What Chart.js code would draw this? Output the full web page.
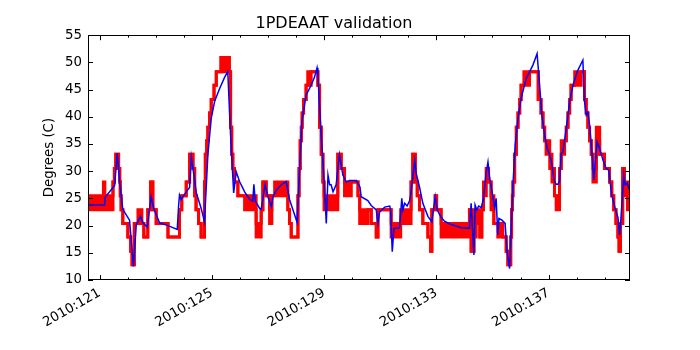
<!DOCTYPE html>
<html>
<head>
<meta charset="utf-8">
<script src="https://cdn.jsdelivr.net/npm/chart.js@4.4.1/dist/chart.umd.min.js"></script>
<style>
html,body{margin:0;padding:0;background:#fff;}
#wrap{width:700px;height:350px;}
</style>
</head>
<body>
<div id="wrap"><canvas id="c" width="700" height="350"></canvas></div>
<script>
// ---- data (day-of-year 2010) ----
const majorDays = [121, 125, 129, 133, 137];
const majorLabels = ['2010:121', '2010:125', '2010:129', '2010:133', '2010:137'];
const minorDays = [121,122,123,124,125,126,127,128,129,130,131,132,133,134,135,136,137,138,139];
const yTicks = [10,15,20,25,30,35,40,45,50,55];

// model (blue)
const blueT = [
120.59,121.18,121.20,121.54,121.63,121.72,121.83,122.07,122.21,122.31,
122.46,122.55,122.70,122.84,122.94,123.14,123.44,123.77,123.82,123.85,
123.91,124.09,124.21,124.27,124.33,124.45,124.62,124.74,124.86,124.98,
125.10,125.28,125.46,125.57,125.67,125.78,125.87,125.99,126.17,126.35,
126.46,126.50,126.55,126.70,126.76,126.90,127.00,127.12,127.18,127.30,
127.47,127.65,127.77,127.95,128.04,128.13,128.21,128.36,128.54,128.66,
128.75,128.78,128.90,128.99,129.08,129.14,129.20,129.25,129.32,129.43,
129.55,129.67,129.79,129.91,130.15,130.28,130.32,130.56,130.68,130.86,
130.92,130.98,131.16,131.34,131.37,131.43,131.49,131.69,131.77,131.81,
131.87,131.96,132.05,132.10,132.23,132.28,132.40,132.52,132.70,132.84,
132.96,133.03,133.15,133.29,133.48,133.89,134.18,134.24,134.34,134.38,
134.44,134.51,134.60,134.68,134.78,134.84,134.90,134.95,135.08,135.13,
135.19,135.23,135.34,135.45,135.52,135.61,135.65,135.73,135.81,135.91,
136.02,136.20,136.44,136.59,136.68,136.76,136.86,136.95,137.04,137.09,
137.15,137.21,137.27,137.33,137.39,137.45,137.51,137.63,137.75,137.87,
138.02,138.16,138.22,138.28,138.34,138.40,138.46,138.54,138.61,138.73,
138.78,138.94,139.05,139.14,139.25,139.37,139.47,139.53,139.56,139.68,
139.73,139.80,139.90];
const blueV = [
23.8,23.8,25.2,27.4,33.3,28.0,23.0,21.0,12.5,20.2,
21.7,20.5,19.7,25.3,23.0,20.5,20.0,19.3,23.8,25.6,
24.8,26.2,27.0,32.6,30.5,26.0,23.2,20.7,33.0,39.7,
42.8,45.2,47.3,48.3,36.6,26.0,29.9,28.1,26.2,24.8,
24.5,27.6,24.5,23.2,23.0,27.5,25.3,23.5,25.3,26.5,
27.5,28.1,24.8,22.0,20.6,30.5,39.1,44.0,45.8,47.3,
49.0,47.5,36.6,29.3,20.4,29.3,27.5,27.5,26.2,27.5,
33.0,29.3,28.0,28.3,28.3,27.1,25.3,24.6,23.7,22.9,
20.4,22.5,23.4,23.6,22.9,15.2,19.5,19.6,25.0,22.9,
24.1,23.6,24.6,26.2,32.0,29.7,27.1,24.1,21.7,20.7,
25.3,22.9,21.7,20.8,20.3,19.6,19.5,24.1,14.6,23.8,
22.9,23.6,23.3,25.0,29.9,31.7,28.8,27.3,23.3,25.0,
18.3,21.3,21.0,20.4,15.2,12.1,17.0,27.5,34.8,39.7,
43.4,47.0,49.5,51.6,45.8,40.3,36.6,34.2,33.0,32.0,
30.0,28.1,27.6,27.6,28.1,33.3,33.5,37.9,42.8,45.8,
48.3,49.8,50.4,42.8,40.3,40.8,38.5,33.6,28.4,35.4,
34.8,32.0,30.5,30.2,25.6,23.2,21.5,18.3,20.0,29.3,
27.5,27.8,26.3];

// telemetry (red), quantized; each value holds until the next time.
// where the telemetry toggles between two counts, lo/hi give both levels
const redT = [
120.59,121.14,121.19,121.48,121.53,121.58,121.68,121.72,121.74,121.77,
121.83,122.01,122.11,122.16,122.24,122.37,122.51,122.58,122.72,122.82,
122.90,123.02,123.44,123.85,123.93,124.09,124.21,124.33,124.39,124.44,
124.53,124.62,124.74,124.77,124.82,124.86,124.92,124.98,125.08,125.16,
125.32,125.63,125.67,125.71,125.75,125.81,125.93,126.17,126.58,126.76,
126.82,126.94,127.06,127.14,127.24,127.71,127.77,127.83,128.07,128.11,
128.15,128.19,128.22,128.27,128.36,128.42,128.54,128.78,128.84,128.90,
128.96,129.00,129.49,129.61,129.73,129.97,130.21,130.27,130.56,130.68,
130.86,130.92,131.39,131.73,132.10,132.16,132.25,132.32,132.40,132.52,
132.70,132.80,132.84,132.96,133.01,133.17,134.18,134.24,134.34,134.42,
134.55,134.62,134.68,134.78,134.86,134.95,135.05,135.19,135.37,135.49,
135.55,135.65,135.68,135.71,135.73,135.79,135.85,135.91,135.97,136.02,
136.12,136.32,136.63,136.73,136.80,136.86,136.91,137.04,137.12,137.21,
137.27,137.39,137.45,137.57,137.63,137.69,137.75,137.80,137.93,138.16,
138.28,138.34,138.40,138.46,138.52,138.58,138.70,138.82,138.99,139.17,
139.25,139.32,139.40,139.47,139.51,139.56,139.64,139.70,139.81,139.90];
const redLo = [
22.9,22.9,22.9,28.0,30.5,33.1,30.5,28.0,25.5,22.9,
20.4,17.9,15.3,12.8,20.4,20.4,20.4,17.9,22.9,28.0,
22.9,20.4,17.9,22.9,25.5,28.0,33.1,30.5,25.5,22.9,
20.4,17.9,28.0,33.1,35.6,38.1,40.7,43.2,45.8,48.3,
48.3,48.3,38.1,33.1,30.5,28.0,25.5,22.9,17.9,22.9,
28.0,25.5,20.4,25.5,25.5,22.9,20.4,17.9,25.5,30.5,
35.6,38.1,40.7,43.2,45.8,45.8,48.3,45.8,38.1,33.1,
28.0,22.9,33.1,30.5,25.5,28.0,25.5,20.4,22.9,20.4,
17.9,22.9,17.9,20.4,28.0,33.1,28.0,25.5,22.9,20.4,
17.9,15.3,22.9,25.5,22.9,17.9,22.9,15.3,17.9,20.4,
17.9,22.9,25.5,30.5,28.0,22.9,20.4,17.9,17.9,15.3,
12.8,17.9,22.9,25.5,28.0,33.1,38.1,40.7,43.2,45.8,
45.8,48.3,43.2,40.7,38.1,35.6,33.1,30.5,28.0,25.5,
22.9,30.5,33.1,35.6,38.1,40.7,43.2,45.8,45.8,48.3,
43.2,40.7,38.1,35.6,33.1,28.0,35.6,33.1,30.5,28.0,
25.5,22.9,20.4,17.9,15.3,20.4,30.5,25.5,22.9,22.9];
const redHi = [
25.5,28.0,25.5,28.0,30.5,33.1,30.5,28.0,25.5,22.9,
20.4,17.9,15.3,12.8,20.4,22.9,20.4,17.9,22.9,28.0,
22.9,20.4,17.9,22.9,25.5,28.0,33.1,30.5,25.5,22.9,
20.4,17.9,28.0,33.1,35.6,38.1,40.7,43.2,45.8,48.3,
50.9,48.3,38.1,33.1,30.5,28.0,25.5,25.5,20.4,22.9,
28.0,25.5,22.9,25.5,28.0,22.9,20.4,17.9,25.5,30.5,
35.6,38.1,40.7,43.2,45.8,48.3,48.3,45.8,38.1,33.1,
28.0,25.5,33.1,30.5,28.0,28.0,25.5,22.9,22.9,20.4,
17.9,22.9,20.4,22.9,28.0,33.1,28.0,25.5,22.9,20.4,
17.9,15.3,22.9,25.5,22.9,20.4,22.9,15.3,22.9,22.9,
17.9,22.9,28.0,30.5,28.0,25.5,20.4,20.4,17.9,15.3,
12.8,17.9,22.9,25.5,28.0,33.1,38.1,40.7,43.2,45.8,
48.3,48.3,43.2,40.7,38.1,35.6,35.6,33.1,30.5,25.5,
25.5,30.5,35.6,35.6,38.1,40.7,43.2,45.8,48.3,48.3,
43.2,40.7,38.1,35.6,33.1,30.5,38.1,33.1,30.5,28.0,
25.5,22.9,20.4,17.9,15.3,20.4,30.5,28.0,28.0,28.0];

const pts = (xs, ys) => xs.map((x, i) => ({x: x, y: ys[i]}));

const FONT = "'DejaVu Sans', sans-serif";

const frameTicks = {
  id: 'frameTicks',
  afterDatasetsDraw(chart) {
    const {ctx, chartArea: a, scales} = chart;
    const x = scales.x, y = scales.y;
    ctx.save();
    ctx.strokeStyle = '#000';
    ctx.lineWidth = 1;
    ctx.beginPath();
    for (const d of minorDays) {
      const px = Math.round(x.getPixelForValue(d)) + 0.5;
      const len = majorDays.includes(d) ? 5 : 2.5;
      ctx.moveTo(px, a.bottom); ctx.lineTo(px, a.bottom - len);
      ctx.moveTo(px, a.top); ctx.lineTo(px, a.top + len);
    }
    for (const v of yTicks) {
      const py = Math.round(y.getPixelForValue(v)) + 0.5;
      ctx.moveTo(a.left, py); ctx.lineTo(a.left + 5, py);
      ctx.moveTo(a.right, py); ctx.lineTo(a.right - 5, py);
    }
    ctx.stroke();
    ctx.strokeRect(Math.round(a.left) + 0.5, Math.round(a.top) + 0.5,
                   Math.round(a.right - a.left) - 1, Math.round(a.bottom - a.top) - 1);
    ctx.restore();
  }
};

new Chart(document.getElementById('c'), {
  type: 'line',
  data: {
    datasets: [
      {
        label: 'model',
        data: pts(blueT, blueV),
        borderColor: '#0000ff',
        borderWidth: 1.5,
        pointRadius: 0,
        fill: false,
        tension: 0
      },
      {
        label: 'telemetry hi',
        data: pts(redT, redHi),
        borderColor: '#ff0000',
        borderWidth: 3,
        pointRadius: 0,
        stepped: true,
        fill: false
      },
      {
        label: 'telemetry lo',
        data: pts(redT, redLo),
        borderColor: '#ff0000',
        backgroundColor: '#ff0000',
        borderWidth: 3,
        pointRadius: 0,
        stepped: true,
        fill: 1
      }
    ]
  },
  options: {
    responsive: false,
    animation: false,
    events: [],
    layout: { padding: { left: 38, right: 70, top: 0, bottom: 0 } },
    plugins: {
      legend: { display: false },
      tooltip: { enabled: false },
      title: {
        display: true,
        text: '1PDEAAT validation',
        color: '#000',
        font: { family: FONT, size: 16, weight: 'normal' },
        padding: { top: 14, bottom: 2 }
      }
    },
    scales: {
      x: {
        type: 'linear',
        min: 120.59,
        max: 139.90,
        grid: { display: false, drawTicks: false },
        border: { display: false },
        afterBuildTicks: (s) => { s.ticks = majorDays.map(v => ({ value: v })); },
        afterFit: (s) => { s.height = 70; },
        ticks: {
          autoSkip: false,
          minRotation: 30,
          maxRotation: 30,
          padding: 5,
          color: '#000',
          font: { family: FONT, size: 13.33 },
          callback: (v) => { const i = majorDays.indexOf(v); return i >= 0 ? majorLabels[i] : ''; }
        }
      },
      y: {
        type: 'linear',
        min: 10,
        max: 55,
        grid: { display: false, drawTicks: false },
        border: { display: false },
        afterBuildTicks: (s) => { s.ticks = yTicks.map(v => ({ value: v })); },
        afterFit: (s) => { s.width = 50; },
        ticks: {
          padding: 6,
          color: '#000',
          font: { family: FONT, size: 13.33 }
        },
        title: {
          display: true,
          text: 'Degrees (C)',
          color: '#000',
          font: { family: FONT, size: 13.33 },
          padding: { top: 4, bottom: 0 }
        }
      }
    }
  },
  plugins: [frameTicks]
});
</script>
</body>
</html>
